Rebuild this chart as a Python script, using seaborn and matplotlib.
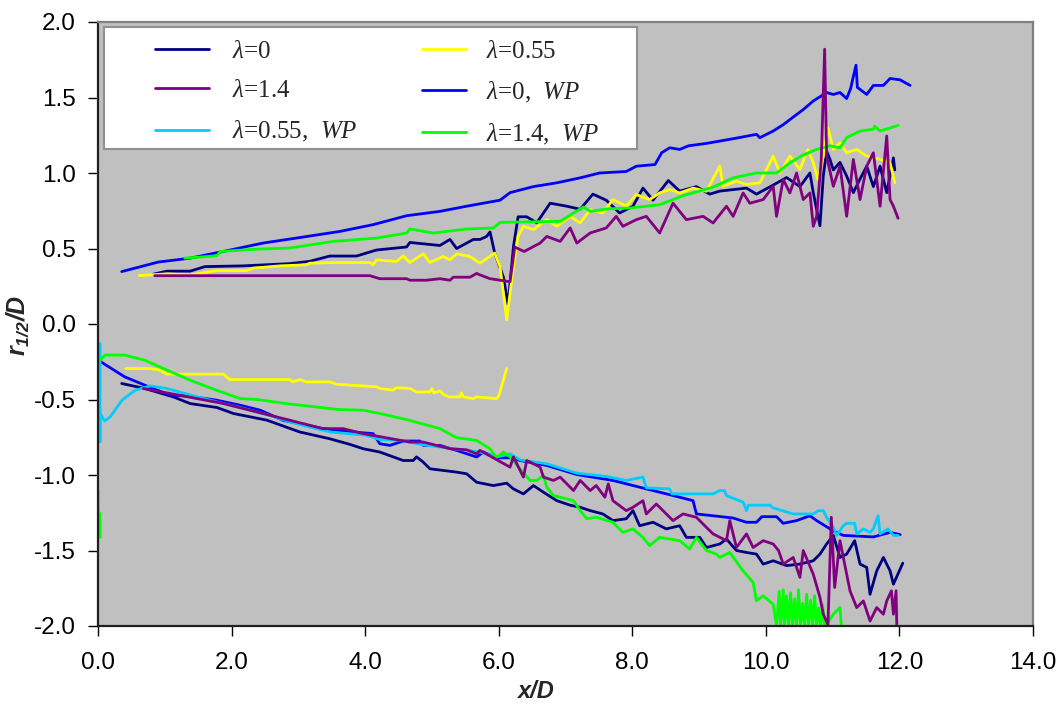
import matplotlib
matplotlib.use("Agg")
import matplotlib.pyplot as plt
from matplotlib.lines import Line2D
from matplotlib.patches import Rectangle
import pandas as pd
import seaborn as sns

# ---------------------------------------------------------------
# Jet half-radius r_1/2/D versus streamwise distance x/D.
# Each case has an upper (positive) and a lower (negative) branch.
# ---------------------------------------------------------------

# lambda = 0
lam0_up_x = [0.83, 1.03, 1.38, 1.60, 2.18, 2.87, 3.17, 3.47, 3.87, 4.17, 4.62, 4.67, 5.12, 5.27,
             5.37, 5.62, 5.72, 5.82, 5.87, 5.94, 6.07, 6.14, 6.22, 6.29, 6.42, 6.57, 6.77, 7.02,
             7.22, 7.41, 7.61, 7.81, 8.01, 8.16, 8.31, 8.54, 8.71, 8.96, 9.16, 9.31, 9.51, 9.71,
             9.86, 10.11, 10.31, 10.51, 10.66, 10.71, 10.76, 10.81, 10.86, 10.91, 10.96, 11.01,
             11.11, 11.21, 11.31, 11.41, 11.51, 11.61, 11.71, 11.81, 11.91, 11.93]
lam0_up_y = [0.33, 0.35, 0.35, 0.38, 0.385, 0.40, 0.415, 0.45, 0.45, 0.49, 0.51, 0.54, 0.52, 0.56,
             0.50, 0.56, 0.56, 0.58, 0.61, 0.47, 0.31, 0.13, 0.51, 0.71, 0.71, 0.67, 0.80, 0.78,
             0.76, 0.86, 0.82, 0.735, 0.78, 0.90, 0.82, 0.95, 0.88, 0.91, 0.86, 0.88, 0.89, 0.90,
             0.86, 0.92, 0.97, 0.91, 1.00, 0.87, 0.76, 0.65, 0.98, 1.145, 1.09, 1.02,
             1.07, 0.98, 0.87, 0.96, 1.045, 0.91, 1.045, 0.87, 1.10, 1.02]
lam0_lo_x = [0.355, 0.70, 1.13, 1.38, 1.78, 2.03, 2.53, 3.02, 3.47, 3.77, 3.97, 4.22, 4.57, 4.72,
             4.77, 4.87, 4.97, 5.37, 5.52, 5.67, 5.92, 6.12, 6.22, 6.37, 6.52, 6.67, 6.87, 7.07,
             7.22, 7.37, 7.56, 7.71, 7.91, 8.01, 8.11, 8.31, 8.51, 8.71, 8.81, 9.01, 9.11, 9.31,
             9.41, 9.56, 9.71, 9.86, 9.96, 10.11, 10.31, 10.51, 10.71, 10.81, 10.91, 11.01, 11.11,
             11.21, 11.33, 11.41, 11.51, 11.56, 11.66, 11.76, 11.86, 11.91, 12.05]
lam0_lo_y = [-0.394, -0.427, -0.483, -0.527, -0.553, -0.593, -0.637, -0.715, -0.76, -0.797, -0.826,
             -0.848, -0.904, -0.904, -0.88, -0.915, -0.959, -0.981, -0.992, -1.048, -1.07, -1.054,
             -1.092, -1.125, -1.07, -1.114, -1.17, -1.20, -1.214, -1.236, -1.258, -1.302, -1.29,
             -1.236, -1.336, -1.313, -1.357, -1.336, -1.413, -1.413, -1.48, -1.457, -1.424, -1.50,
             -1.513, -1.524, -1.59, -1.568, -1.60, -1.59, -1.568, -1.524, -1.457, -1.40, -1.546,
             -1.524, -1.435, -1.59, -1.612, -1.79, -1.635, -1.546, -1.635, -1.723, -1.584]

# lambda = 0.55
lam055_up_x = [0.62, 1.03, 1.38, 1.78, 2.23, 2.33, 2.72, 3.12, 3.17, 3.57, 4.07, 4.12, 4.17, 4.47,
               4.57, 4.67, 4.87, 4.97, 5.17, 5.27, 5.37, 5.57, 5.72, 5.94, 6.02, 6.12, 6.22, 6.29,
               6.37, 6.52, 6.72, 6.87, 7.07, 7.22, 7.37, 7.56, 7.71, 7.91, 8.06, 8.26, 8.41, 8.56,
               8.71, 8.91, 9.11, 9.31, 9.36, 9.56, 9.71, 9.91, 10.11, 10.21, 10.36, 10.51, 10.63,
               10.71, 10.78, 10.86, 10.93, 11.01, 11.11, 11.21, 11.36, 11.51, 11.71, 11.86, 11.93]
lam055_up_y = [0.321, 0.332, 0.325, 0.354, 0.354, 0.37, 0.385, 0.392, 0.403, 0.407, 0.407, 0.392,
               0.425, 0.414, 0.452, 0.407, 0.465, 0.407, 0.447, 0.425, 0.465, 0.447, 0.403, 0.47,
               0.38, 0.027, 0.381, 0.58, 0.647, 0.625, 0.691, 0.647, 0.713, 0.669, 0.757, 0.735,
               0.824, 0.78, 0.857, 0.824, 0.868, 0.89, 0.868, 0.90, 0.879, 1.045, 0.912, 0.946,
               0.924, 0.935, 1.112, 1.00, 1.112, 1.023, 1.156, 1.068, 0.957, 1.112, 1.30, 1.156,
               1.20, 1.134, 1.156, 1.112, 1.09, 1.068, 0.935]
lam055_lo_x = [0.415, 0.78, 0.93, 1.03, 1.88, 1.97, 2.87, 2.92, 3.02, 3.12, 3.47, 3.57, 4.17, 4.22,
               4.42, 4.47, 4.67, 4.77, 4.97, 5.00, 5.03, 5.12, 5.17, 5.25, 5.42, 5.44, 5.47, 5.62,
               5.67, 5.97, 6.00, 6.12]
lam055_lo_y = [-0.295, -0.295, -0.306, -0.332, -0.332, -0.368, -0.368, -0.383, -0.368, -0.383,
               -0.383, -0.399, -0.416, -0.427, -0.438, -0.422, -0.427, -0.45, -0.45, -0.427,
               -0.456, -0.443, -0.465, -0.483, -0.483, -0.456, -0.483, -0.494, -0.483, -0.494,
               -0.478, -0.295]

# lambda = 1.4
lam14_up_x = [0.85, 4.07, 4.22, 4.62, 4.67, 4.92, 5.12, 5.27, 5.32, 5.57, 5.67, 5.72, 5.87, 6.17,
              6.24, 6.38, 6.62, 6.72, 6.92, 7.07, 7.17, 7.37, 7.61, 7.76, 7.86, 8.06, 8.21, 8.41,
              8.61, 8.81, 9.06, 9.21, 9.41, 9.51, 9.66, 9.76, 9.96, 10.11, 10.16, 10.26, 10.36,
              10.46, 10.56, 10.66, 10.71, 10.76, 10.83, 10.88, 10.91, 11.01, 11.11, 11.21, 11.31,
              11.41, 11.51, 11.61, 11.71, 11.81, 11.86, 11.91, 11.98]
lam14_up_y = [0.32, 0.32, 0.30, 0.30, 0.29, 0.29, 0.30, 0.29, 0.31, 0.31, 0.335, 0.325, 0.30, 0.28,
              0.51, 0.48, 0.536, 0.58, 0.547, 0.636, 0.536, 0.603, 0.636, 0.713, 0.647, 0.691,
              0.713, 0.603, 0.80, 0.691, 0.713, 0.669, 0.78, 0.713, 0.868, 0.80, 0.824, 0.912,
              0.713, 0.957, 0.868, 1.00, 0.824, 0.868, 0.647, 0.713, 1.09, 1.82, 1.112, 0.912,
              1.045, 0.713, 1.09, 0.824, 1.045, 1.134, 0.78, 1.245, 0.824, 0.78, 0.70]
lam14_lo_x = [0.68, 1.88, 2.68, 3.37, 3.67, 3.97, 4.67, 4.87, 5.27, 5.52, 5.67, 5.72, 6.17, 6.22,
              6.37, 6.42, 6.62, 6.67, 6.82, 6.92, 7.12, 7.22, 7.37, 7.46, 7.59, 7.64, 7.71, 7.91,
              8.01, 8.16, 8.21, 8.36, 8.51, 8.61, 8.76, 8.96, 9.11, 9.21, 9.41, 9.46, 9.56, 9.71,
              9.81, 9.96, 10.11, 10.19, 10.26, 10.41, 10.51, 10.56, 10.71, 10.81, 10.86, 10.93,
              10.98, 11.03, 11.11, 11.18, 11.26, 11.36, 11.46, 11.56, 11.66, 11.76, 11.81, 11.88,
              11.91, 11.95, 11.96]
lam14_lo_y = [-0.427, -0.527, -0.616, -0.693, -0.693, -0.726, -0.782, -0.782, -0.826, -0.833,
              -0.86, -0.837, -0.948, -0.88, -1.014, -0.904, -0.948, -1.014, -1.036, -1.014,
              -1.103, -1.036, -1.103, -1.07, -1.147, -1.059, -1.17, -1.236, -1.214, -1.17, -1.258,
              -1.192, -1.258, -1.302, -1.258, -1.28, -1.347, -1.39, -1.435, -1.302, -1.48, -1.39,
              -1.48, -1.435, -1.457, -1.50, -1.59, -1.546, -1.678, -1.50, -1.657, -1.81, -1.922,
              -1.99, -1.28, -1.745, -1.435, -1.59, -1.767, -1.878, -1.834, -1.967, -1.878,
              -1.922, -1.834, -1.767, -1.922, -1.767, -1.99]

# lambda = 0, WP
lam0wp_up_x = [0.355, 0.90, 1.38, 1.98, 2.47, 2.97, 3.62, 4.12, 4.62, 5.12, 5.52, 6.02, 6.17, 6.52,
               6.87, 7.22, 7.51, 7.91, 8.06, 8.34, 8.44, 8.56, 8.71, 8.84, 9.11, 9.51, 9.86, 9.91,
               10.11, 10.26, 10.43, 10.56, 10.71, 10.91, 11.01, 11.11, 11.21, 11.27, 11.30, 11.35,
               11.37, 11.51, 11.61, 11.76, 11.86, 12.01, 12.16]
lam0wp_up_y = [0.347, 0.41, 0.436, 0.49, 0.536, 0.569, 0.613, 0.658, 0.717, 0.746, 0.78, 0.82,
               0.87, 0.91, 0.935, 0.968, 1.00, 1.01, 1.045, 1.056, 1.134, 1.167, 1.156, 1.18,
               1.196, 1.227, 1.256, 1.234, 1.278, 1.32, 1.377, 1.42, 1.477, 1.533, 1.52, 1.533,
               1.493, 1.56, 1.62, 1.714, 1.567, 1.52, 1.58, 1.58, 1.626, 1.617, 1.58]
lam0wp_lo_x = [0.005, 0.40, 0.70, 1.08, 1.38, 1.78, 2.13, 2.43, 2.77, 3.37, 3.82, 4.12, 4.22, 4.37,
               4.57, 4.82, 4.87, 5.12, 5.37, 5.67, 5.77, 5.97, 6.17, 6.32, 6.72, 7.17, 7.71, 8.21,
               8.61, 8.91, 8.96, 9.21, 9.51, 9.71, 9.86, 9.94, 10.16, 10.26, 10.46, 10.66, 10.76,
               11.01, 11.16, 11.61, 11.86, 12.01]
lam0wp_lo_y = [-0.24, -0.35, -0.405, -0.472, -0.478, -0.505, -0.538, -0.571, -0.638, -0.693,
               -0.715, -0.726, -0.793, -0.804, -0.775, -0.775, -0.804, -0.804, -0.837, -0.881,
               -0.848, -0.886, -0.886, -0.904, -0.937, -0.997, -1.036, -1.092, -1.136, -1.17,
               -1.258, -1.27, -1.285, -1.313, -1.313, -1.276, -1.276, -1.32, -1.302, -1.27,
               -1.302, -1.37, -1.40, -1.41, -1.38, -1.395]

# lambda = 0.55, WP (lower branch only)
lam055wp_lo_x = [0.03, 0.03, 0.03, 0.10, 0.18, 0.36, 0.55, 0.78, 1.03, 1.38, 1.78, 2.13, 2.47,
                 2.97, 3.47, 4.02, 4.22, 4.52, 4.87, 5.32, 5.72, 5.97, 6.17, 6.32, 6.72, 7.17,
                 7.62, 7.91, 8.16, 8.21, 8.56, 8.59, 9.21, 9.31, 9.38, 9.41, 9.66, 9.71, 9.74,
                 10.06, 10.11, 10.41, 10.71, 10.79, 10.86, 10.91, 11.01, 11.06, 11.16, 11.21,
                 11.33, 11.36, 11.46, 11.56, 11.61, 11.68, 11.71, 11.78, 11.83, 11.91, 11.98]
lam055wp_lo_y = [-0.13, -0.78, -0.59, -0.642, -0.616, -0.505, -0.44, -0.41, -0.427, -0.47, -0.516,
                 -0.553, -0.593, -0.66, -0.715, -0.737, -0.766, -0.77, -0.80, -0.826, -0.848, -0.88,
                 -0.86, -0.90, -0.926, -0.988, -1.01, -1.036, -1.014, -1.085, -1.092, -1.125,
                 -1.125, -1.103, -1.103, -1.136, -1.18, -1.236, -1.20, -1.20, -1.218, -1.258,
                 -1.258, -1.236, -1.236, -1.28, -1.347, -1.40, -1.336, -1.32, -1.32, -1.39,
                 -1.357, -1.38, -1.357, -1.27, -1.39, -1.37, -1.357, -1.40, -1.40]

# lambda = 1.4, WP
lam14wp_up_x = [1.30, 1.78, 1.83, 2.38, 2.87, 3.52, 4.17, 4.62, 4.67, 5.02, 5.52, 5.92, 6.02, 6.92,
                7.12, 7.27, 7.37, 7.62, 7.96, 8.41, 8.61, 8.76, 9.21, 9.51, 9.86, 10.16, 10.36,
                10.56, 10.76, 10.96, 11.11, 11.21, 11.41, 11.61, 11.63, 11.71, 11.98]
lam14wp_up_y = [0.436, 0.452, 0.48, 0.496, 0.503, 0.547, 0.569, 0.602, 0.63, 0.602, 0.629, 0.636,
                0.673, 0.68, 0.735, 0.775, 0.746, 0.762, 0.768, 0.79, 0.824, 0.85, 0.906, 0.968,
                1.00, 1.00, 1.067, 1.12, 1.156, 1.18, 1.167, 1.234, 1.278, 1.29, 1.31, 1.278, 1.315]
lam14wp_edge_x = [0.0, 0.005, 0.03, 0.03]
lam14wp_edge_y = [-1.10, -1.247, -1.256, -1.413]
lam14wp_lo_x = [0.0, 0.105, 0.40, 0.70, 1.03, 1.38, 1.78, 2.13, 2.38, 2.87, 3.62, 3.97, 4.22, 4.62,
                5.12, 5.37, 5.67, 5.87, 5.97, 6.07, 6.17, 6.34, 6.47, 6.57, 6.67, 6.72, 6.82,
                7.12, 7.22, 7.32, 7.46, 7.71, 7.86, 8.01, 8.16, 8.26, 8.41, 8.71, 8.86, 8.96,
                9.11, 9.26, 9.31, 9.46, 9.66, 9.81, 9.86, 9.96, 10.11, 10.16, 10.20, 10.22, 10.26,
                10.28, 10.31, 10.34, 10.37, 10.40, 10.43, 10.46, 10.49, 10.52, 10.55, 10.58,
                10.61, 10.64, 10.67, 10.70, 10.73, 10.76, 10.79, 10.82, 10.85, 10.88, 10.91,
                11.01, 11.11, 11.13]
lam14wp_lo_y = [-0.25, -0.206, -0.206, -0.24, -0.305, -0.372, -0.44, -0.494, -0.50, -0.53, -0.567,
                -0.571, -0.593, -0.633, -0.693, -0.753, -0.771, -0.826, -0.886, -0.848, -0.88,
                -0.97, -1.036, -1.036, -1.003, -1.081, -1.136, -1.17, -1.236, -1.29, -1.28,
                -1.313, -1.38, -1.357, -1.413, -1.468, -1.413, -1.435, -1.49, -1.413, -1.50,
                -1.524, -1.546, -1.513, -1.635, -1.712, -1.834, -1.80, -1.856, -2.0, -1.77, -2.0,
                -1.76, -2.0, -1.80, -2.0, -1.78, -2.0, -1.82, -2.0, -1.76, -2.0, -1.85, -2.0,
                -1.79, -2.0, -1.83, -2.0, -1.80, -2.0, -1.88, -2.0, -1.86, -2.0, -1.99, -1.922,
                -1.878, -2.0]

colors = {"λ=0": "#000080", "λ=0.55": "#FFFF00", "λ=1.4": "#800080",
          "λ=0, WP": "#0000FF", "λ=0.55, WP": "#00CCFF", "λ=1.4, WP": "#00FF00"}

branches = [
    ("λ=0", lam0_up_x, lam0_up_y),
    ("λ=0", lam0_lo_x, lam0_lo_y),
    ("λ=0.55", lam055_up_x, lam055_up_y),
    ("λ=0.55", lam055_lo_x, lam055_lo_y),
    ("λ=0, WP", lam0wp_up_x, lam0wp_up_y),
    ("λ=0, WP", lam0wp_lo_x, lam0wp_lo_y),
    ("λ=0.55, WP", lam055wp_lo_x, lam055wp_lo_y),
    ("λ=1.4, WP", lam14wp_up_x, lam14wp_up_y),
    ("λ=1.4, WP", lam14wp_edge_x, lam14wp_edge_y),
    ("λ=1.4, WP", lam14wp_lo_x, lam14wp_lo_y),
    ("λ=1.4", lam14_up_x, lam14_up_y),
    ("λ=1.4", lam14_lo_x, lam14_lo_y),
]

# ---- style ----
sns.set_style("ticks")
plt.rcParams["font.family"] = ["Liberation Sans", "DejaVu Sans"]
plt.rcParams["mathtext.fontset"] = "custom"
plt.rcParams["mathtext.it"] = "Liberation Serif:italic"
plt.rcParams["mathtext.rm"] = "Liberation Serif"
plt.rcParams["mathtext.bf"] = "Liberation Sans:bold:italic"

fig = plt.figure(figsize=(10.61, 7.06), dpi=100, facecolor="white")
ax = fig.add_axes([98 / 1061, 1 - 626 / 706, 935 / 1061, 604 / 706])
ax.set_facecolor("#C0C0C0")

LW = 2.0
for case, xs, ys in branches:
    seg = pd.DataFrame({"x": xs, "y": ys})
    sns.lineplot(data=seg, x="x", y="y", ax=ax, color=colors[case], linewidth=LW,
                 estimator=None, sort=False, legend=False)

ax.set_xlim(0, 14)
ax.set_ylim(-2.0, 2.0)
ax.set_xticks([0, 2, 4, 6, 8, 10, 12, 14])
ax.set_yticks([-2.0, -1.5, -1.0, -0.5, 0.0, 0.5, 1.0, 1.5, 2.0])
ax.xaxis.set_major_formatter(matplotlib.ticker.FormatStrFormatter("%.1f"))
ax.yaxis.set_major_formatter(matplotlib.ticker.FormatStrFormatter("%.1f"))
ax.tick_params(axis="both", direction="out", length=7, width=1, color="black",
               labelsize=17.5, labelcolor="black")
ax.tick_params(axis="x", pad=12)
ax.tick_params(axis="y", pad=9)

for side in ("left", "bottom"):
    ax.spines[side].set_color("#202020")
    ax.spines[side].set_linewidth(1.6)
for side in ("top", "right"):
    ax.spines[side].set_color("#808080")
    ax.spines[side].set_linewidth(1.6)

ax.set_xlabel("x/D", fontsize=17, fontweight="bold", fontstyle="italic")
ax.xaxis.set_label_coords((535 - 98) / 935, (626 - 680) / 604)
ax.set_ylabel(r"$\mathbf{r_{1/2}/D}$", fontsize=18)
ax.yaxis.set_label_coords((31 - 98) / 935, (626 - 325) / 604)

# ---- legend: white box holding two columns of entries ----
ax.add_patch(Rectangle(((104 - 98) / 935, (626 - 149) / 604), 533 / 935, 122 / 604,
                       transform=ax.transAxes, facecolor="white", edgecolor="#909090",
                       linewidth=1.5, zorder=5))
label_text = {
    "λ=0": r"$\mathit{λ}$=0",
    "λ=0.55": r"$\mathit{λ}$=0.55",
    "λ=1.4": r"$\mathit{λ}$=1.4",
    "λ=0, WP": r"$\mathit{λ}$=0,  $\mathit{WP}$",
    "λ=0.55, WP": r"$\mathit{λ}$=0.55,  $\mathit{WP}$",
    "λ=1.4, WP": r"$\mathit{λ}$=1.4,  $\mathit{WP}$",
}
legend_cols = [
    (["λ=0", "λ=1.4", "λ=0.55, WP"], 155, 2.15, 0.95),
    (["λ=0.55", "λ=0, WP", "λ=1.4, WP"], 422, 1.75, 0.8),
]
legends = []
for entries, x_left, hlen, hpad in legend_cols:
    handles = [Line2D([], [], color=colors[c], linewidth=LW) for c in entries]
    leg = ax.legend(handles, [label_text[c] for c in entries], loc="upper left",
                    bbox_to_anchor=((x_left - 98) / 935, (626 - 40) / 604), borderaxespad=0,
                    frameon=False, prop={"family": "Liberation Serif", "size": 18},
                    handlelength=hlen, handletextpad=hpad, labelspacing=0.68, borderpad=0)
    leg.set_zorder(6)
    legends.append(leg)
for leg in legends[:-1]:
    ax.add_artist(leg)

fig.savefig("out.png", dpi=100, facecolor="white")
